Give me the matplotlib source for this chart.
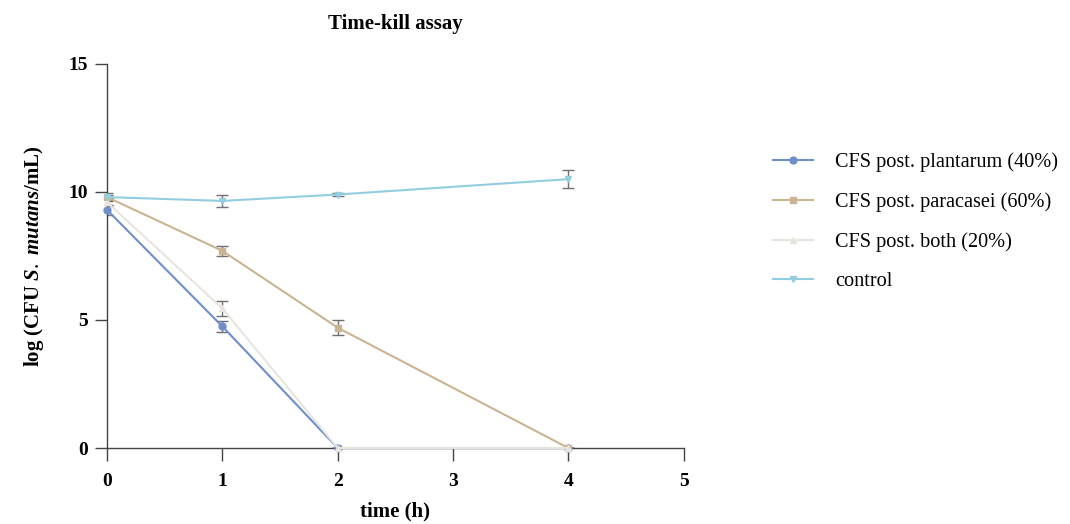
import matplotlib
matplotlib.use("Agg")
import matplotlib.pyplot as plt
import numpy as np

plt.rcParams['font.family'] = ['Liberation Serif', 'DejaVu Serif']
plt.rcParams['mathtext.fontset'] = 'custom'
plt.rcParams['mathtext.rm'] = 'Liberation Serif'
plt.rcParams['mathtext.it'] = 'Liberation Serif:italic:bold'
plt.rcParams['mathtext.bf'] = 'Liberation Serif:bold'

time_h = [0, 1, 2, 4]

labels = ["CFS post. plantarum (40%)", "CFS post. paracasei (60%)",
          "CFS post. both (20%)", "control"]
plantarum = [9.3, 4.75, 0.0, 0.0]
plantarum_err = [0.2, 0.2, 0.0, 0.0]
paracasei = [9.8, 7.7, 4.7, 0.0]
paracasei_err = [0.15, 0.2, 0.3, 0.0]
both = [9.6, 5.45, 0.0, 0.0]
both_err = [0.15, 0.3, 0.0, 0.0]
control = [9.8, 9.65, 9.9, 10.5]
control_err = [0.1, 0.25, 0.05, 0.35]

series = [plantarum, paracasei, both, control]
errors = [plantarum_err, paracasei_err, both_err, control_err]
colors = ["#6f8fcb", "#cbb491", "#e8e5de", "#93cde0"]
markers = ["o", "s", "^", "v"]

fig = plt.figure(figsize=(10.7, 5.24), dpi=100)
ax = fig.add_axes([0.1, 0.145, 0.539, 0.733])

handles = []
for vals, err, col, mk, lab in zip(series, errors, colors, markers, labels):
    ax.errorbar(time_h, vals, yerr=err, fmt='none', ecolor="#707070",
                elinewidth=1.0, capsize=4, capthick=1.0, zorder=2)
    h, = ax.plot(time_h, vals, color=col, marker=mk, markersize=5,
                 linewidth=1.5, label=lab, zorder=3, clip_on=False)
    handles.append(h)

ax.set_xlim(0, 5)
ax.set_ylim(0, 15)
ax.set_xticks([0, 1, 2, 3, 4, 5])
ax.set_yticks([0, 5, 10, 15])
ax.spines['top'].set_visible(False)
ax.spines['right'].set_visible(False)
for s in ['left', 'bottom']:
    ax.spines[s].set_color("#444444")
    ax.spines[s].set_linewidth(1.0)
ax.tick_params(axis='both', colors="#444444", length=9, width=1.0,
               labelsize=14, labelcolor='black')
ax.tick_params(axis='x', pad=9)
ax.tick_params(axis='y', pad=5)
for t in ax.get_xticklabels() + ax.get_yticklabels():
    t.set_fontweight('bold')

ax.set_xlabel("time (h)", fontsize=15, fontweight='bold', labelpad=8)
ax.set_ylabel(r"log (CFU $\it{S.\ mutans}$/mL)", fontsize=15,
              fontweight='bold', labelpad=16)
ax.set_title("Time-kill assay", fontsize=15, fontweight='bold', pad=25)

fig.legend(handles=handles, labels=labels, loc='upper left',
           bbox_to_anchor=(0.705, 0.745), frameon=False, fontsize=14.6,
           handlelength=2.0, labelspacing=1.0, handletextpad=1.1)

fig.savefig("out.png", dpi=100)
